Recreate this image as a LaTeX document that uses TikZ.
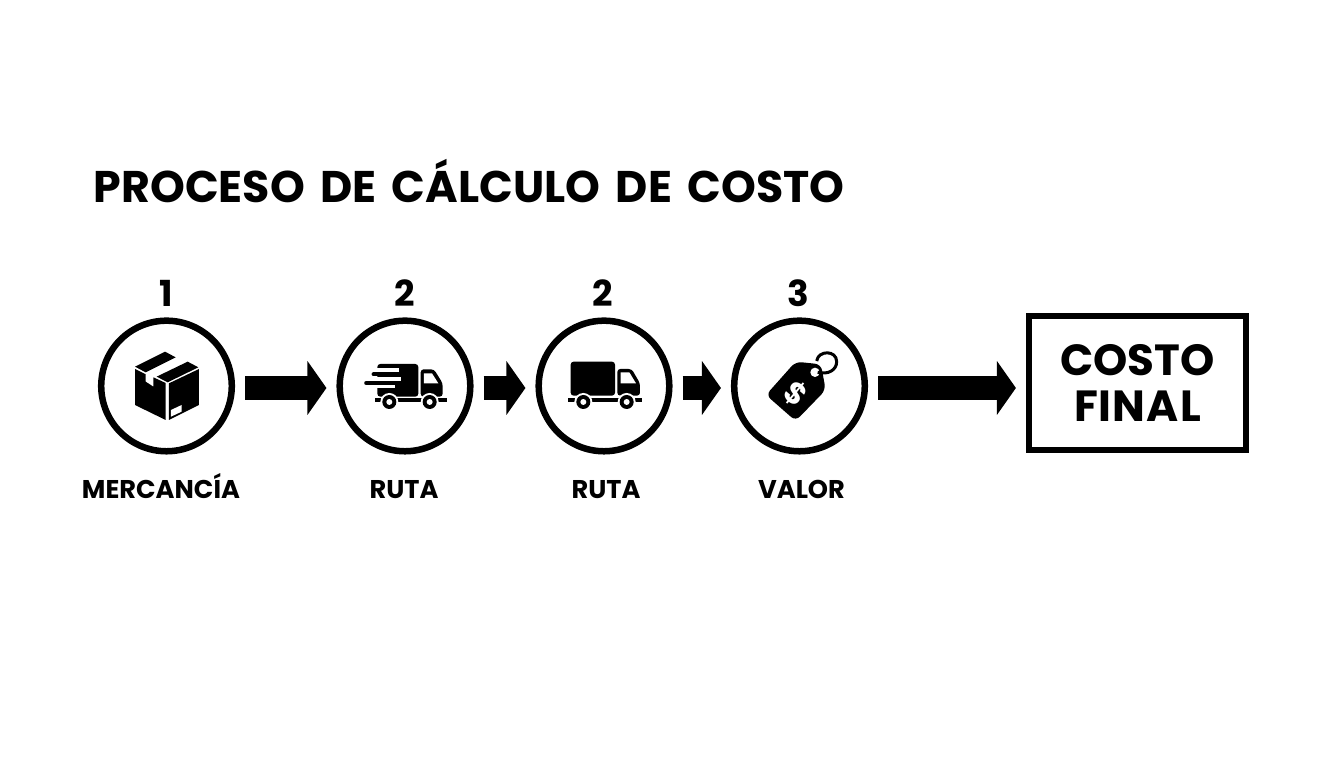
\documentclass[tikz,border=0pt]{standalone}
\usepackage{fontspec}
\setmainfont{Poppins}[BoldFont=Poppins Bold]
\usetikzlibrary{arrows.meta}
\tikzset{
	stepcircle/.style={draw=black, circle, line width=0.65mm, minimum size=1.305cm, inner sep=0pt},
	stepnumber/.style={anchor=base, inner sep=0pt, font=\fontsize{10.2}{12}\selectfont\bfseries},
	steplabel/.style={anchor=base, inner sep=0pt, font=\fontsize{7.3}{9}\selectfont\bfseries},
	blockarrow/.style={line width=2.4mm, -{Triangle[length=1.9mm, width=5.3mm]}, shorten <=1mm, shorten >=1mm},
	icon/.style={shift={#1}, scale=1/3}
}
\def\wheelicon(#1,#2){
	\fill[white] (#1, #2) circle (27);
	\fill[black] (#1, #2) circle (21);
	\fill[white] (#1, #2) circle (9);
}
\begin{document}
\begin{tikzpicture}[x=0.01cm, y=-0.01cm]
		%%%%% START %%%%%
		\useasboundingbox (0, 0) rectangle (1344, 768);
		
		\node[anchor=base west, inner sep=0pt, font=\fontsize{12.6}{15}\selectfont\bfseries] (title) at (93, 203) {\spaceskip=4.4pt PROCESO DE CÁLCULO DE COSTO};
		
		\node[stepcircle] (merc) at (166.5, 386) {};
		\node[stepcircle] (rutaa) at (405, 386) {};
		\node[stepcircle] (rutab) at (604, 386) {};
		\node[stepcircle] (valor) at (799.5, 386) {};
		\node[draw=black, line width=0.6mm, minimum width=2.17cm, minimum height=1.34cm, inner sep=0pt, align=center, font=\fontsize{12.4}{13.1}\selectfont\bfseries] (final) at (1137.5, 383) {COSTO\\{\addfontfeatures{LetterSpace=2.5}FINAL}};
		
		\node[stepnumber] (numa) at (166, 307) {1};
		\node[stepnumber] (numb) at (405, 307) {2};
		\node[stepnumber] (numc) at (603, 307) {2};
		\node[stepnumber] (numd) at (798, 307) {3};
		
		\node[steplabel] (labela) at (161, 499) {MERCANCÍA};
		\node[steplabel] (labelb) at (404, 499) {RUTA};
		\node[steplabel] (labelc) at (606, 499) {RUTA};
		\node[steplabel] (labeld) at (801.5, 499) {VALOR};
		
		\draw[blockarrow] ([yshift=-0.2mm]merc.east) -- ([yshift=-0.2mm]rutaa.west);
		\draw[blockarrow] ([yshift=-0.2mm]rutaa.east) -- ([yshift=-0.2mm]rutab.west);
		\draw[blockarrow] ([yshift=-0.2mm]rutab.east) -- ([yshift=-0.2mm]valor.west);
		\draw[blockarrow] ([yshift=-0.2mm]valor.east) -- ([yshift=-0.2mm]valor.east -| final.west);
		
		% box
		\begin{scope}[icon={(125, 345)}]
			\fill (30, 65) -- (120, 20) -- (152, 37) -- (62, 82) -- cycle;
			\fill (95, 95) -- (188, 50) -- (220, 67) -- (128, 112) -- cycle;
			\fill (30, 72) -- (62, 88) -- (62, 110) -- (85, 125) -- (85, 97) -- (122, 114) -- (122, 225) -- (30, 180) -- cycle;
			\fill (132, 115) -- (222, 72) -- (222, 180) -- (132, 225) -- cycle;
			\fill[white] (138, 195) -- (170, 180) -- (170, 200) -- (138, 215) -- cycle;
		\end{scope}
		
		% fast truck
		\begin{scope}[icon={(360, 355)}]
			\fill[rounded corners=0.3mm] (52, 27) rectangle (175, 125);
			\fill[white] (40, 40) rectangle (118, 52);
			\fill[white] (40, 65) rectangle (122, 77);
			\fill[white] (40, 90) rectangle (105, 98);
			\draw[line width=0.043cm, line cap=round] (41, 58) -- (118, 58);
			\draw[line width=0.043cm, line cap=round] (19, 84) -- (100, 84);
			\fill[rounded corners=0.3mm] (182, 43) -- (222, 43) -- (248, 85) -- (248, 125) -- (182, 125) -- cycle;
			\fill[white] (192, 55) -- (216, 55) -- (235, 85) -- (192, 85) -- cycle;
			\fill (45, 128) rectangle (262, 142);
			\wheelicon(88, 141)
			\wheelicon(209, 141)
		\end{scope}
		
		% plain truck
		\begin{scope}[icon={(560, 355)}]
			\fill[rounded corners=0.3mm] (32, 20) rectangle (165, 122);
			\fill[rounded corners=0.3mm] (172, 42) -- (215, 42) -- (240, 85) -- (240, 122) -- (172, 122) -- cycle;
			\fill[white] (182, 52) -- (208, 52) -- (228, 85) -- (182, 85) -- cycle;
			\fill (25, 128) rectangle (245, 142);
			\wheelicon(70, 141)
			\wheelicon(200, 141)
		\end{scope}
		
		% price tag
		\begin{scope}[icon={(755, 345)}]
			\fill[rounded corners=0.6mm] (33, 150) -- (122, 50) -- (198, 58) -- (212, 135) -- (122, 228) -- cycle;
			\fill[white] (180, 82) circle (14);
			\draw[line width=0.03cm] (185, 48) .. controls (190, 15) and (245, 15) .. (245, 50) .. controls (245, 75) and (220, 90) .. (188, 82);
		\end{scope}
		\node[text=white, inner sep=0pt, rotate=-40, font=\fontsize{8.5}{10}\selectfont\bfseries] (dollar) at (795.7, 393.3) {\$};
		
		%%%%% END %%%%%
	\end{tikzpicture}
\end{document}
